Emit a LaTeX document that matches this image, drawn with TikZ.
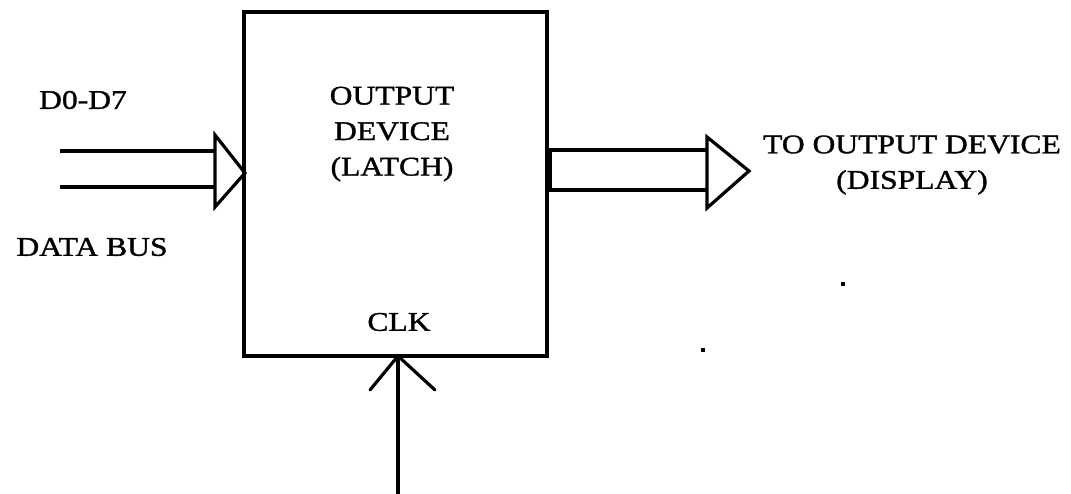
\documentclass[tikz,border=0pt]{standalone}
\usepackage{fontspec}
\setmainfont{Liberation Serif}[FakeStretch=1.17, FakeBold=1.2]
\begin{document}
\begin{tikzpicture}[x=1pt,y=-1pt, line width=3.2pt,
  lbl/.style={font=\fontsize{27}{35.5}\selectfont, inner sep=0pt, align=center},
  busline/.style={line width=3.2pt},
  dot/.style={fill=black, inner sep=0pt, minimum size=3.5pt, rectangle}]
\useasboundingbox (0,0) rectangle (1071,494);
% latch box
\node[draw, minimum width=303pt, minimum height=344pt, inner sep=0pt] (latch) at (395.5,184) {};
\node[lbl] (title) at (392,134) {OUTPUT\\DEVICE\\(LATCH)};
\node[lbl] (clk) at (399,322) {CLK};
% input bus
\coordinate (in1s) at (60,151);
\coordinate (in1e) at (215,151);
\coordinate (in2s) at (60,187);
\coordinate (in2e) at (215,187);
\coordinate (inT) at (215,135);
\coordinate (inB) at (215,207);
\coordinate (inTip) at (245,173);
\draw[busline] (in1s) -- (in1e);
\draw[busline] (in2s) -- (in2e);
\draw[line join=miter] (inT) -- (inTip) -- (inB) -- cycle;
\node[lbl] (d07) at (83,100) {D0-D7};
\node[lbl] (dbus) at (92,247) {DATA BUS};
% output bus
\coordinate (o1s) at (547,150);
\coordinate (o1e) at (707,150);
\coordinate (o2s) at (547,190);
\coordinate (o2e) at (707,190);
\coordinate (oT) at (707,137);
\coordinate (oB) at (707,208);
\coordinate (oTip) at (749,171);
\fill (o1s) rectangle ++(5,40);
\draw[busline] (o1s) -- (o1e);
\draw[busline] (o2s) -- (o2e);
\draw[line join=miter] (oT) -- (oTip) -- (oB) -- cycle;
\node[lbl] (disp) at (912,165) {TO OUTPUT DEVICE\\(DISPLAY)};
% clock arrow
\coordinate (ck0) at (398,494);
\coordinate (ck1) at (398,356);
\coordinate (ckL) at (370,390);
\coordinate (ckR) at (435,390);
\draw (ck0) -- (ck1);
\draw[line cap=round] (ckL) -- (ck1) -- (ckR);
% stray dots
\node[dot] (p1) at (843,284) {};
\node[dot] (p2) at (703,350) {};
\end{tikzpicture}
\end{document}
